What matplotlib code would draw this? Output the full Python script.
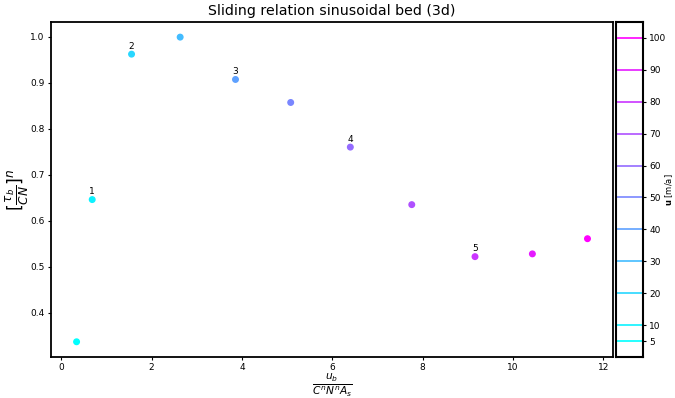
import numpy as np
import matplotlib
matplotlib.use("Agg")
from matplotlib import pyplot as plt
from matplotlib import colors as mcolors

# velocities [m/a] and the sliding relation points
u = [5, 10, 20, 30, 40, 50, 60, 70, 80, 90, 100]
ub_scaled = [0.34, 0.686, 1.557, 2.633, 3.858, 5.08, 6.40, 7.76, 9.16, 10.43, 11.65]
tau_scaled = [0.337, 0.646, 0.962, 0.999, 0.907, 0.857, 0.760, 0.635, 0.522, 0.528, 0.561]
labels = {1: "1", 2: "2", 4: "3", 6: "4", 8: "5"}

cmap = plt.get_cmap("cool")
norm = mcolors.Normalize(vmin=min(u), vmax=max(u))

fig = plt.figure(figsize=(6.75, 3.98), dpi=100)
ax = fig.add_axes([0.0756, 0.103, 0.8326, 0.842])
cax = fig.add_axes([0.9126, 0.103, 0.040, 0.842])

ax.scatter(ub_scaled, tau_scaled, c=u, cmap=cmap, norm=norm, s=16, zorder=3)
for i, txt in labels.items():
    ax.annotate(txt, (ub_scaled[i], tau_scaled[i]), xytext=(0, 2.5),
                textcoords="offset points", ha="center", va="bottom", fontsize=6.5)

ax.set_title("Sliding relation sinusoidal bed (3d)", fontsize=10.2, pad=5)
ax.set_xlabel(r"$\frac{u_b}{C^n N^n A_s}$", fontsize=11, labelpad=-0.5)
ax.set_ylabel(r"$[\frac{\tau_b}{CN}]^n$", fontsize=12.5, labelpad=-0.5)
ax.tick_params(labelsize=6.5, length=2.5, width=0.8, pad=2)
for sp in ax.spines.values():
    sp.set_linewidth(1.3)

# colorbar with lines at the velocity levels
cax.set_ylim(0, 105)
cax.set_xlim(0, 1)
for lev in u:
    cax.axhline(lev, color=cmap(norm(lev)), lw=1.2)
cax.set_xticks([])
cax.yaxis.tick_right()
cax.set_yticks(u)
cax.tick_params(labelsize=6.5, length=2.5, width=0.8, pad=2)
cax.yaxis.set_label_position("right")
cax.set_ylabel(r"$\mathbf{u}$ [m/a]", fontsize=6, labelpad=-2.5)
for sp in cax.spines.values():
    sp.set_linewidth(1.5)

fig.savefig("out.png", dpi=100)
